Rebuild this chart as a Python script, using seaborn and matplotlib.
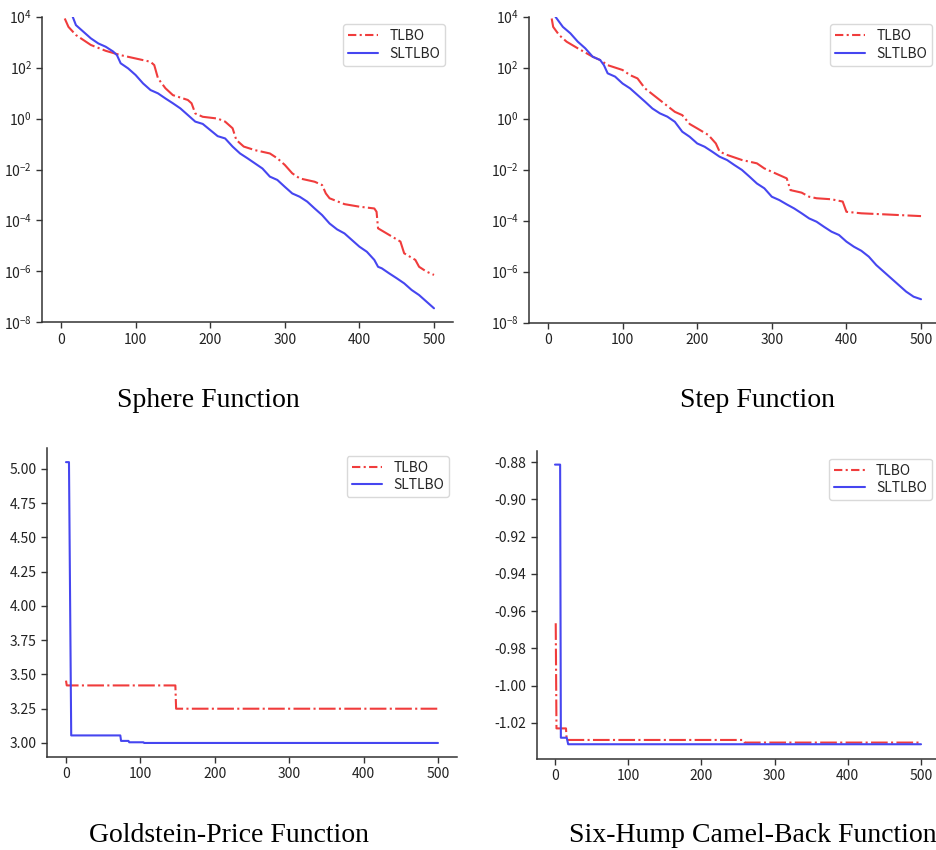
import numpy as np
import pandas as pd
import matplotlib
matplotlib.use("Agg")
import matplotlib.pyplot as plt
import seaborn as sns
from matplotlib.ticker import LogFormatterSciNotation, NullLocator, FixedLocator

# ---------------- data ----------------
# Sphere function (log10 of best fitness)
sphere_tlbo_x = [5, 10, 20, 40, 60, 80, 100, 120, 125, 130, 140, 150, 170, 175, 180, 190, 210, 220,
                 230, 235, 245, 260, 280, 290, 300, 310, 320, 340, 350, 355, 360, 380, 400, 420,
                 423, 425, 440, 455, 460, 475, 480, 490, 500]
sphere_tlbo_log10 = [3.93, 3.6, 3.28, 2.89, 2.66, 2.49, 2.36, 2.23, 2.1, 1.58, 1.19, 0.92, 0.73, 0.6,
                     0.2, 0.07, 0.0, -0.12, -0.38, -0.84, -1.1, -1.24, -1.37, -1.56, -1.82, -2.15,
                     -2.35, -2.48, -2.61, -2.94, -3.13, -3.36, -3.46, -3.53, -3.66, -4.31, -4.57,
                     -4.83, -5.29, -5.55, -5.82, -6.01, -6.14]
sphere_sl_x = [15, 20, 30, 40, 50, 60, 70, 75, 80, 90, 100, 110, 120, 130, 140, 150, 160, 170, 180,
               190, 200, 210, 220, 230, 240, 250, 260, 270, 280, 290, 300, 310, 320, 330, 340, 350,
               360, 370, 380, 390, 400, 410, 420, 425, 430, 440, 450, 460, 470, 480, 490, 500]
sphere_sl_log10 = [4.05, 3.67, 3.41, 3.15, 2.95, 2.82, 2.63, 2.49, 2.17, 1.97, 1.71, 1.38, 1.12, 0.99,
                   0.79, 0.6, 0.4, 0.14, -0.12, -0.21, -0.45, -0.69, -0.78, -1.1, -1.37, -1.56,
                   -1.76, -1.96, -2.28, -2.41, -2.68, -2.94, -3.07, -3.26, -3.53, -3.79, -4.12,
                   -4.35, -4.51, -4.77, -5.03, -5.23, -5.55, -5.82, -5.88, -6.08, -6.27, -6.47,
                   -6.73, -6.93, -7.19, -7.45]

# Step function (log10 of best fitness)
step_tlbo_x = [5, 7, 15, 25, 40, 60, 70, 80, 100, 110, 120, 130, 150, 170, 180, 190, 200, 215, 225,
               230, 240, 260, 280, 290, 300, 320, 325, 340, 350, 360, 380, 395, 400, 420, 450, 500]
step_tlbo_log10 = [3.93, 3.6, 3.28, 3.02, 2.76, 2.43, 2.3, 2.1, 1.91, 1.71, 1.58, 1.19, 0.73, 0.27,
                   0.14, -0.21, -0.38, -0.64, -0.97, -1.29, -1.42, -1.62, -1.75, -1.95, -2.08,
                   -2.34, -2.8, -2.9, -3.06, -3.12, -3.16, -3.25, -3.65, -3.71, -3.75, -3.82]
step_sl_x = [10, 15, 20, 30, 40, 50, 60, 70, 75, 80, 90, 100, 110, 120, 130, 140, 150, 160, 170, 180,
             190, 200, 210, 220, 230, 240, 250, 260, 270, 280, 290, 300, 310, 320, 330, 340, 350,
             360, 370, 380, 390, 400, 410, 420, 430, 440, 450, 460, 470, 480, 490, 500]
step_sl_log10 = [4.0, 3.8, 3.6, 3.35, 3.02, 2.76, 2.43, 2.3, 2.1, 1.78, 1.65, 1.38, 1.19, 0.93, 0.67,
                 0.4, 0.21, 0.08, -0.12, -0.51, -0.71, -0.97, -1.1, -1.29, -1.49, -1.62, -1.82,
                 -2.01, -2.27, -2.54, -2.73, -3.06, -3.19, -3.36, -3.52, -3.71, -3.91, -4.04,
                 -4.24, -4.43, -4.56, -4.82, -5.02, -5.18, -5.41, -5.74, -6.0, -6.26, -6.52,
                 -6.78, -6.98, -7.08]

# Goldstein-Price function
gp_tlbo_x = [0, 1, 147, 148, 500]
gp_tlbo_y = [3.455, 3.42, 3.42, 3.25, 3.25]
gp_sl_x = [0, 4, 7, 73, 74, 84, 85, 104, 105, 500]
gp_sl_y = [5.05, 5.05, 3.055, 3.055, 3.015, 3.015, 3.005, 3.005, 3.0, 3.0]

# Six-Hump Camel-Back function
sh_tlbo_x = [1, 2, 15, 16, 257, 259, 500]
sh_tlbo_y = [-0.9665, -1.0229, -1.0229, -1.0291, -1.0291, -1.0305, -1.0305]
sh_sl_x = [0, 7, 8, 16, 18, 500]
sh_sl_y = [-0.8814, -0.8814, -1.0279, -1.0279, -1.0314, -1.0314]

captions = ["Sphere Function", "Step Function", "Goldstein-Price Function",
            "Six-Hump Camel-Back Function"]
labels = ["TLBO", "SLTLBO"]

# ---------------- style ----------------
sns.set_style("ticks")
plt.rcParams["font.family"] = ["Noto Sans CJK SC", "DejaVu Sans"]
plt.rcParams["axes.unicode_minus"] = False
plt.rcParams["axes.edgecolor"] = "#333333"
plt.rcParams["axes.linewidth"] = 1.1
plt.rcParams["xtick.color"] = "#333333"
plt.rcParams["ytick.color"] = "#333333"
plt.rcParams["xtick.labelcolor"] = "#222222"
plt.rcParams["ytick.labelcolor"] = "#222222"

RED = "#f03c3c"
BLUE = "#4646f0"

fig = plt.figure(figsize=(9.36, 8.5), dpi=100)
ax_tl = fig.add_axes([0.04525, 0.62082, 0.43835, 0.35953])
ax_tr = fig.add_axes([0.56549, 0.62035, 0.43846, 0.36000])
ax_bl = fig.add_axes([0.05064, 0.10941, 0.43718, 0.36341])
ax_br = fig.add_axes([0.57340, 0.10753, 0.43013, 0.36188])


def draw(ax, tx, ty, sx, sy):
    df_t = pd.DataFrame({"iter": tx, "val": ty})
    df_s = pd.DataFrame({"iter": sx, "val": sy})
    sns.lineplot(data=df_t, x="iter", y="val", ax=ax, color=RED, lw=1.5,
                 label=labels[0], estimator=None, sort=False)
    sns.lineplot(data=df_s, x="iter", y="val", ax=ax, color=BLUE, lw=1.5,
                 label=labels[1], estimator=None, sort=False)
    ax.lines[0].set_dashes((8, 1.6, 1, 1.6))
    ax.set_xlabel("")
    ax.set_ylabel("")
    ax.set_xlim(-25, 525)
    ax.set_xticks([0, 100, 200, 300, 400, 500])
    ax.tick_params(labelsize=10, length=4, width=1)
    sns.despine(ax=ax)
    leg = ax.legend(loc="upper right", fontsize=10, frameon=True, handlelength=2.2,
                    handletextpad=0.8, borderpad=0.35, labelspacing=0.25,
                    borderaxespad=0.55)
    leg.get_frame().set_edgecolor("#d0d0d0")
    leg.get_frame().set_linewidth(1.0)
    leg.get_lines()[0].set_dashes((4, 1.6, 1, 1.6))


draw(ax_tl, sphere_tlbo_x, 10 ** np.array(sphere_tlbo_log10), sphere_sl_x, 10 ** np.array(sphere_sl_log10))
draw(ax_tr, step_tlbo_x, 10 ** np.array(step_tlbo_log10), step_sl_x, 10 ** np.array(step_sl_log10))
draw(ax_bl, gp_tlbo_x, gp_tlbo_y, gp_sl_x, gp_sl_y)
draw(ax_br, sh_tlbo_x, sh_tlbo_y, sh_sl_x, sh_sl_y)

for ax in (ax_tl, ax_tr):
    ax.set_yscale("log")
    ax.set_ylim(1e-8, 1e4)
    ax.yaxis.set_major_locator(FixedLocator([1e-8, 1e-6, 1e-4, 1e-2, 1e0, 1e2, 1e4]))
    ax.yaxis.set_major_formatter(LogFormatterSciNotation())
    ax.yaxis.set_minor_locator(NullLocator())

ax_bl.set_ylim(2.8975, 5.1525)
ax_bl.set_yticks([3.0, 3.25, 3.5, 3.75, 4.0, 4.25, 4.5, 4.75, 5.0])
ax_bl.set_yticklabels([f"{v:.2f}" for v in ax_bl.get_yticks()])
ax_br.set_ylim(-1.0391, -0.8741)
ax_br.set_yticks([-1.02, -1.0, -0.98, -0.96, -0.94, -0.92, -0.90, -0.88])
ax_br.set_yticklabels([f"{v:.2f}" for v in ax_br.get_yticks()])

cap_kw = dict(family=["Liberation Serif", "DejaVu Serif"], fontsize=20, ha="center",
              va="baseline", color="black")
fig.text(0.2225, 1 - 407 / 850, captions[0], **cap_kw)
fig.text(0.8090, 1 - 407 / 850, captions[1], **cap_kw)
fig.text(0.2450, 1 - 842 / 850, captions[2], **cap_kw)
fig.text(0.8045, 1 - 842 / 850, captions[3], **cap_kw)

fig.savefig("out.png", dpi=100)
